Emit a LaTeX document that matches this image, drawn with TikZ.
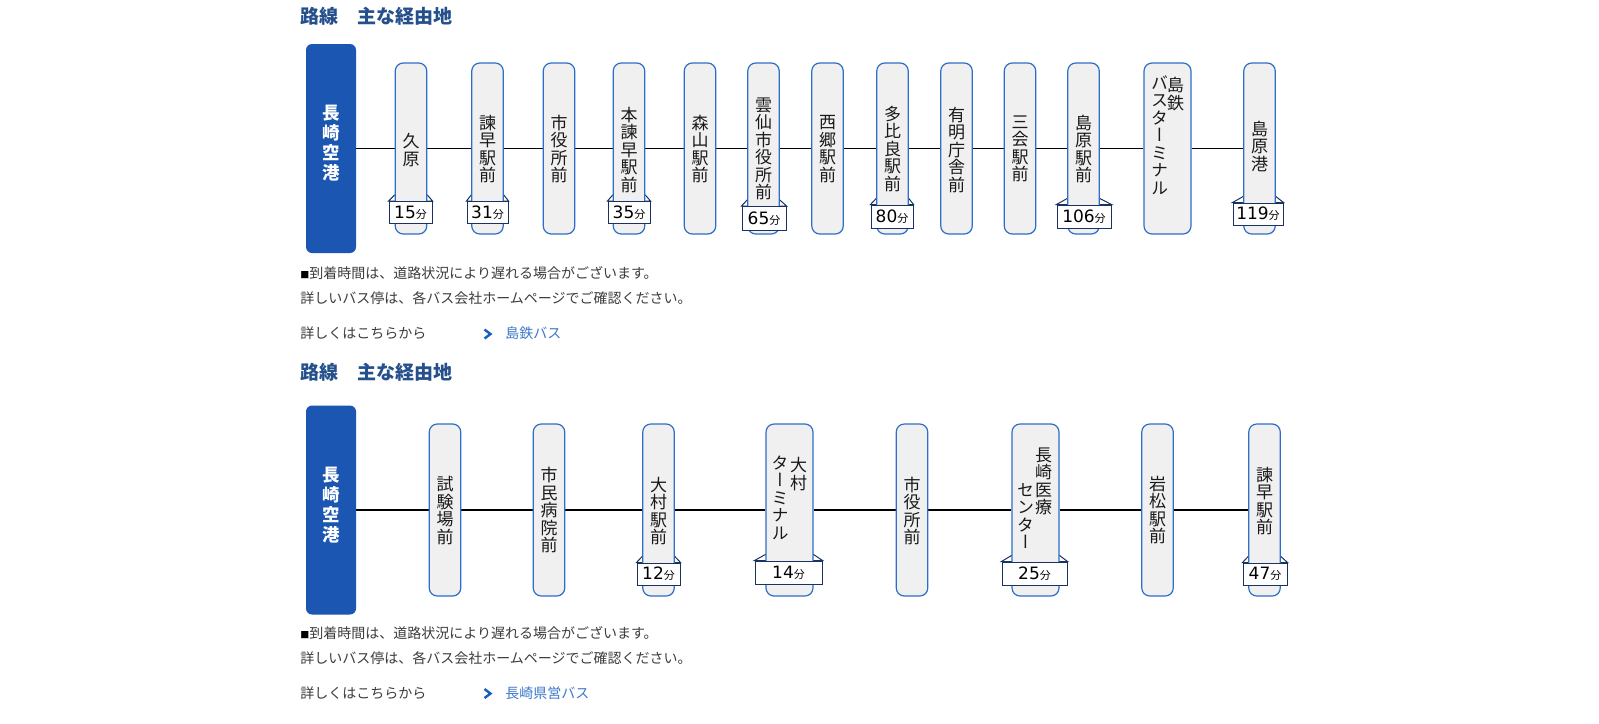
\documentclass[tikz,border=0pt]{standalone}
\usepackage{fontspec}
\setmainfont{Noto Sans CJK JP}
\newfontfamily\stfam{Noto Sans CJK JP}[RawFeature=+vert]
\newfontfamily\digfam{DejaVu Sans}
\usetikzlibrary{calc}
\pgfdeclarelayer{bg}
\pgfdeclarelayer{paper}
\pgfsetlayers{paper,bg,main}
\definecolor{headblue}{RGB}{37,80,140}
\definecolor{airblue}{RGB}{26,86,178}
\definecolor{stborder}{RGB}{45,110,200}
\definecolor{stfill}{RGB}{240,240,240}
\definecolor{labnavy}{RGB}{25,50,95}
\definecolor{notegrey}{RGB}{60,60,60}
\definecolor{linkblue}{RGB}{60,120,200}
\definecolor{chevblue}{RGB}{25,95,190}
\newcommand\mn[1]{{\digfam\fontsize{8.5pt}{8.5pt}\selectfont #1}{\fontsize{5.5pt}{5.5pt}\selectfont 分}}
\newcommand\tabof[2]{\filldraw[tabline] (#1.north west) -- ($(#2.west|-#1.north)+(0,-6)$) -- ($(#2.east|-#1.north)+(0,-6)$) -- (#1.north east) -- cycle;}
\tikzset{
  heading/.style={font=\bfseries\fontsize{9.5pt}{10pt}\selectfont, text=headblue, inner sep=0pt, anchor=west},
  airbox/.style={fill=airblue, rounded corners=3pt, minimum width=25pt, minimum height=104.5pt, inner sep=0pt},
  airtext/.style={font=\bfseries\fontsize{8.75pt}{10pt}\selectfont, text=white, align=center, inner sep=0pt},
  stbox/.style={draw=stborder, fill=stfill, line width=0.6pt, rounded corners=4pt, minimum width=15.75pt, minimum height=85.5pt, inner sep=0pt},
  stboxb/.style={stbox, minimum height=86pt},
  sttext/.style={font=\stfam\fontsize{8.5pt}{8.75pt}\selectfont, text=black!90, align=center, inner sep=0pt},
  lab/.style={draw=labnavy, fill=white, line width=0.5pt, inner sep=0pt, minimum height=11pt, text=black},
  tabline/.style={fill=white, draw=labnavy, line width=0.5pt},
  route/.style={draw=black, line width=0.6pt},
  note/.style={font=\fontsize{7pt}{8pt}\selectfont, text=notegrey, inner sep=0pt, anchor=west},
  link/.style={note, text=linkblue},
  chev/.style={draw=chevblue, line width=1.2pt}
}
\begin{document}
\begin{tikzpicture}[x=0.5pt,y=-0.5pt]
\begin{pgfonlayer}{paper}
\fill[white] (0,0) rectangle (1599,723);
\end{pgfonlayer}
\useasboundingbox (0,0) rectangle (1599,723);

% ---------- top route ----------
\node[heading] (h1) at (300,15.8) {路線　主な経由地};
\node[airbox] (A1) at (331,148.5) {};
\node[airtext] (A1t) at (331,143.5) {長\\崎\\空\\港};

\node[stbox] (s1) at (411,148.5) {};
\node[stbox] (s2) at (487.5,148.5) {};
\node[stbox] (s3) at (559,148.5) {};
\node[stbox] (s4) at (629,148.5) {};
\node[stbox] (s5) at (700,148.5) {};
\node[stbox] (s6) at (763.5,148.5) {};
\node[stbox] (s7) at (827.5,148.5) {};
\node[stbox] (s8) at (892.5,148.5) {};
\node[stbox] (s9) at (956.5,148.5) {};
\node[stbox] (s10) at (1020,148.5) {};
\node[stbox] (s11) at (1083.5,148.5) {};
\node[stbox, minimum width=23.5pt] (s12) at (1167.5,148.5) {};
\node[stbox] (s13) at (1259.5,148.5) {};

\node[sttext] (t1) at (411,150) {久\\原};
\node[sttext] (t2) at (487.5,149) {諫\\早\\駅\\前};
\node[sttext] (t3) at (559,149) {市\\役\\所\\前};
\node[sttext] (t4) at (629,150) {本\\諫\\早\\駅\\前};
\node[sttext] (t5) at (700,149) {森\\山\\駅\\前};
\node[sttext] (t6) at (763.5,149) {雲\\仙\\市\\役\\所\\前};
\node[sttext] (t7) at (827.5,149) {西\\郷\\駅\\前};
\node[sttext] (t8) at (892.5,148.5) {多\\比\\良\\駅\\前};
\node[sttext] (t9) at (956.5,150) {有\\明\\庁\\舎\\前};
\node[sttext] (t10) at (1020,149) {三\\会\\駅\\前};
\node[sttext] (t11) at (1083.5,149) {島\\原\\駅\\前};
\node[sttext, anchor=north] (t12a) at (1175.5,77) {島\\鉄};
\node[sttext, anchor=north] (t12b) at (1159.5,75) {バ\\ス\\タ\\ー\\ミ\\ナ\\ル};
\node[sttext] (t13) at (1259.5,146) {島\\原\\港};

\node[lab, minimum width=21.5pt] (l1) at (410.5,212.5) {\mn{15}};
\node[lab, minimum width=20.5pt] (l2) at (487.5,212.5) {\mn{31}};
\node[lab, minimum width=21pt] (l4) at (629,212.5) {\mn{35}};
\node[lab, minimum width=22pt, minimum height=12pt] (l6) at (764,218.5) {\mn{65}};
\node[lab, minimum width=21pt, minimum height=11.5pt] (l8) at (892,216.5) {\mn{80}};
\node[lab, minimum width=27pt, minimum height=11.5pt] (l11) at (1084,216.5) {\mn{106}};
\node[lab, minimum width=25pt] (l13) at (1258,214) {\mn{119}};

% ---------- bottom route ----------
\node[heading] (h2) at (300,372.5) {路線　主な経由地};
\node[airbox] (A2) at (331,510) {};
\node[airtext] (A2t) at (331,505) {長\\崎\\空\\港};

\node[stboxb] (b1) at (445,510) {};
\node[stboxb] (b2) at (549,510) {};
\node[stboxb] (b3) at (658.5,510) {};
\node[stboxb, minimum width=23.5pt] (b4) at (789.5,510) {};
\node[stboxb] (b5) at (912,510) {};
\node[stboxb, minimum width=23.5pt] (b6) at (1035.5,510) {};
\node[stboxb] (b7) at (1157.5,510) {};
\node[stboxb] (b8) at (1264.5,510) {};

\node[sttext] (u1) at (445,510.5) {試\\験\\場\\前};
\node[sttext] (u2) at (549,510) {市\\民\\病\\院\\前};
\node[sttext] (u3) at (658.5,511) {大\\村\\駅\\前};
\node[sttext, anchor=north] (u4a) at (798.5,457) {大\\村};
\node[sttext, anchor=north] (u4b) at (780,455) {タ\\ー\\ミ\\ナ\\ル};
\node[sttext] (u5) at (912,511) {市\\役\\所\\前};
\node[sttext, anchor=north] (u6a) at (1043.5,447) {長\\崎\\医\\療};
\node[sttext, anchor=north] (u6b) at (1025.5,483) {セ\\ン\\タ\\ー};
\node[sttext] (u7) at (1157.5,510) {岩\\松\\駅\\前};
\node[sttext] (u8) at (1264.5,501) {諫\\早\\駅\\前};

\node[lab, minimum width=21.5pt] (m3) at (658.5,574) {\mn{12}};
\node[lab, minimum width=33.5pt, minimum height=11.5pt] (m4) at (788.5,572.5) {\mn{14}};
\node[lab, minimum width=32.5pt, minimum height=11.5pt] (m6) at (1034.5,573.5) {\mn{25}};
\node[lab, minimum width=22pt] (m8) at (1265,574) {\mn{47}};

% ---------- notes ----------
\node[note] (n1) at (300,273) {{\fontsize{4.5pt}{4.5pt}\selectfont\color{black}■}到着時間は、道路状況により遅れる場合がございます。};
\node[note] (n2) at (300,298) {詳しいバス停は、各バス会社ホームページでご確認ください。};
\node[note] (n3) at (300,333.5) {詳しくはこちらから};
\node[link] (k1) at (505,333.5) {島鉄バス};
\draw[chev] (484.5,329.5) -- (490.5,334) -- (484.5,338.5);

\node[note] (n4) at (300,633) {{\fontsize{4.5pt}{4.5pt}\selectfont\color{black}■}到着時間は、道路状況により遅れる場合がございます。};
\node[note] (n5) at (300,658) {詳しいバス停は、各バス会社ホームページでご確認ください。};
\node[note] (n6) at (300,693.5) {詳しくはこちらから};
\node[link] (k2) at (505,693.5) {長崎県営バス};
\draw[chev] (484.5,689) -- (490.5,693.5) -- (484.5,698);

% ---------- background: route lines and label tabs ----------
\begin{pgfonlayer}{bg}
\draw[route] (A1) -- (s1) -- (s2) -- (s3) -- (s4) -- (s5) -- (s6) -- (s7) -- (s8) -- (s9) -- (s10) -- (s11) -- (s12) -- (s13);
\draw[route] (A2) -- (b1) -- (b2) -- (b3) -- (b4) -- (b5) -- (b6) -- (b7) -- (b8);
\tabof{l1}{s1}
\tabof{l2}{s2}
\tabof{l4}{s4}
\tabof{l6}{s6}
\tabof{l8}{s8}
\tabof{l11}{s11}
\tabof{l13}{s13}
\tabof{m3}{b3}
\tabof{m4}{b4}
\tabof{m6}{b6}
\tabof{m8}{b8}
\end{pgfonlayer}
\end{tikzpicture}
\end{document}
